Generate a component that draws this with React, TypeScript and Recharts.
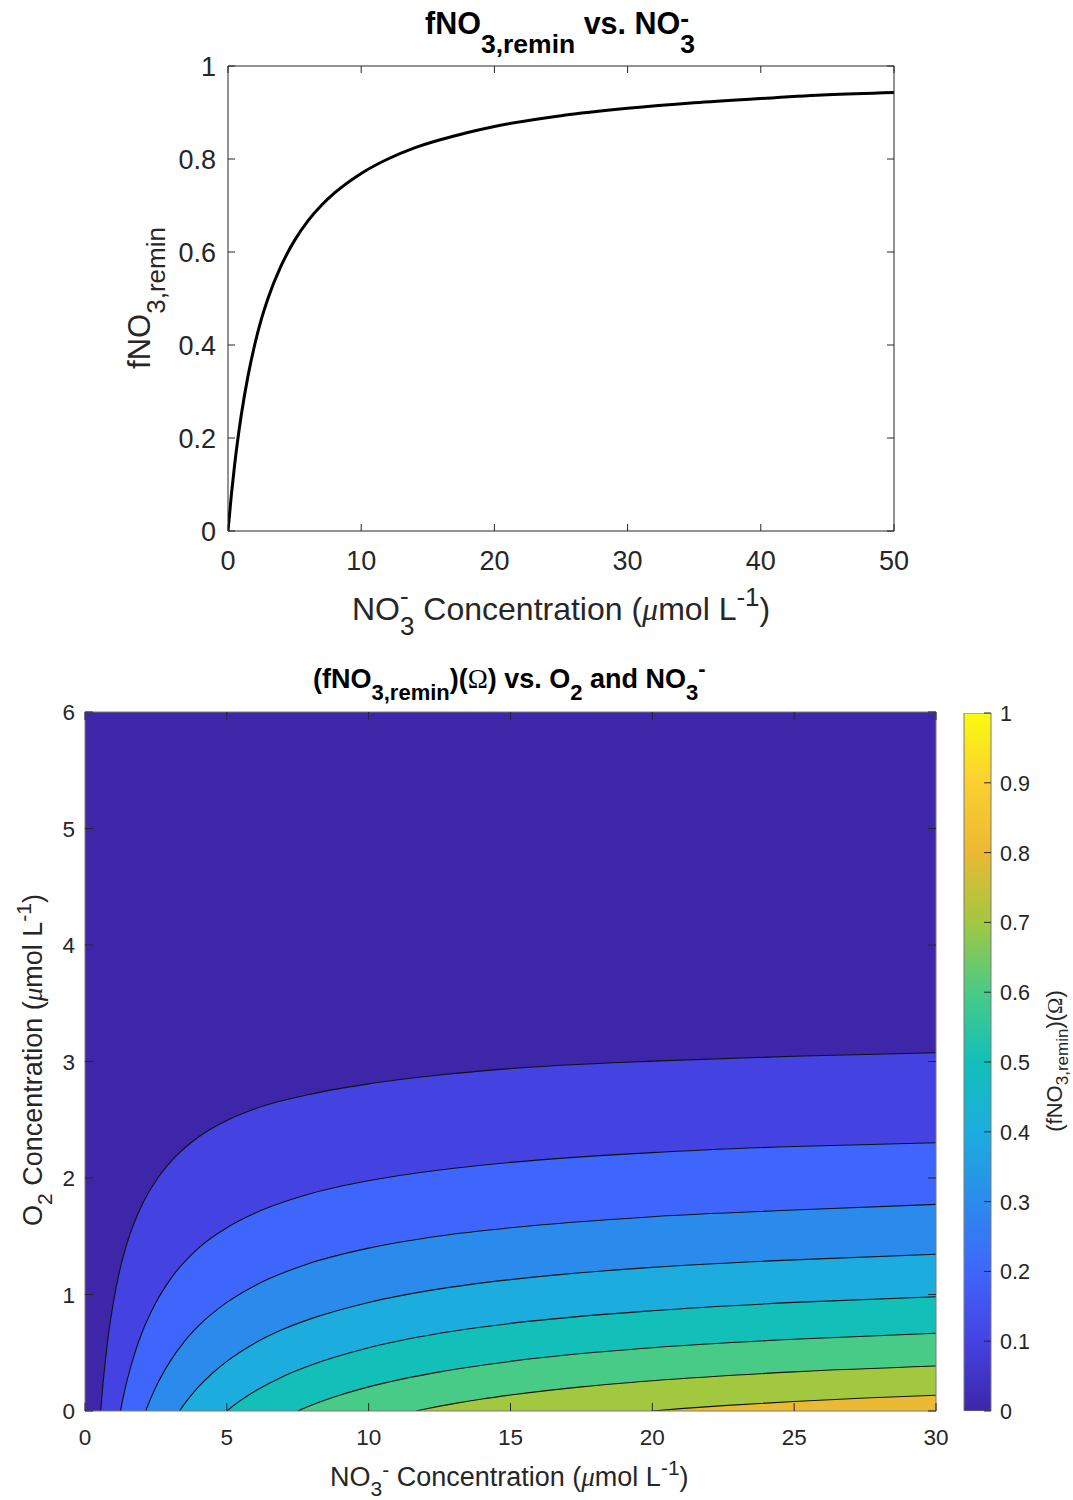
import React from 'react';
import { LineChart, Line, XAxis, YAxis, ComposedChart, Area, Bar } from 'recharts';

const FONT = '"Liberation Sans", Arial, Helvetica, sans-serif';
const SERIF = '"Liberation Serif", "Times New Roman", serif';
const INK = '#262626';
const FRAME = '#7a7a7a';

// ---- top panel: fNO3,remin vs NO3-
const no3Top = [0, 0.25, 0.5, 0.75, 1, 1.5, 2, 2.5, 3, 4, 5, 6, 7, 8, 10, 12, 14, 16, 18, 20, 25, 30, 35, 40, 45, 50];
const fTop = [0, 0.077, 0.143, 0.2, 0.25, 0.333, 0.4, 0.455, 0.5, 0.571, 0.625, 0.667, 0.7, 0.727, 0.769, 0.8, 0.824, 0.842, 0.857, 0.87, 0.893, 0.909, 0.921, 0.93, 0.938, 0.943];
const topXTicks = [0, 10, 20, 30, 40, 50];
const topYTicks = [0, 0.2, 0.4, 0.6, 0.8, 1];

// ---- bottom panel: contour lines of (fNO3,remin)(Omega), O2 position of each level vs NO3-
const contourLevels = [0.1, 0.2, 0.3, 0.4, 0.5, 0.6, 0.7, 0.8];
const level01N = [0.556, 0.6, 0.7, 0.8, 1.0, 1.25, 1.5, 2, 2.5, 3, 4, 5, 6, 8, 10, 12.5, 15, 20, 25, 30];
const level01O2 = [0, 0.137, 0.393, 0.604, 0.932, 1.233, 1.455, 1.764, 1.977, 2.134, 2.352, 2.494, 2.594, 2.722, 2.808, 2.884, 2.939, 3.003, 3.045, 3.075];
const level02N = [1.25, 1.35, 1.5, 1.75, 2, 2.5, 3, 4, 5, 6, 8, 10, 12.5, 15, 20, 25, 30];
const level02O2 = [0, 0.122, 0.278, 0.493, 0.667, 0.932, 1.128, 1.398, 1.573, 1.699, 1.869, 1.977, 2.069, 2.134, 2.218, 2.271, 2.303];
const level03N = [2.143, 2.3, 2.5, 3, 3.5, 4, 5, 6, 8, 10, 12.5, 15, 20, 25, 30];
const level03O2 = [0, 0.098, 0.207, 0.426, 0.596, 0.73, 0.932, 1.078, 1.274, 1.398, 1.502, 1.573, 1.668, 1.725, 1.774];
const level04N = [3.333, 3.5, 3.75, 4, 4.5, 5, 6, 7, 8, 10, 12.5, 15, 20, 25, 30];
const level04O2 = [0, 0.059, 0.137, 0.207, 0.326, 0.426, 0.584, 0.703, 0.795, 0.932, 1.048, 1.128, 1.233, 1.297, 1.345];
const level05N = [5, 5.25, 5.5, 6, 7, 8, 10, 12.5, 15, 20, 25, 30];
const level05O2 = [0, 0.049, 0.093, 0.171, 0.299, 0.397, 0.543, 0.667, 0.752, 0.861, 0.932, 0.981];
const level06N = [7.5, 8, 9, 10, 12.5, 15, 17.5, 20, 25, 30];
const level06O2 = [0, 0.051, 0.137, 0.207, 0.336, 0.426, 0.493, 0.543, 0.616, 0.667];
const level07N = [11.667, 12, 13, 14, 15, 17.5, 20, 25, 30];
const level07O2 = [0, 0.017, 0.063, 0.103, 0.137, 0.207, 0.26, 0.336, 0.386];
const level08N = [20, 21, 22.5, 25, 27.5, 30];
const level08O2 = [0, 0.02, 0.046, 0.082, 0.112, 0.135];

const contourN = [level01N, level02N, level03N, level04N, level05N, level06N, level07N, level08N];
const contourO2 = [level01O2, level02O2, level03O2, level04O2, level05O2, level06O2, level07O2, level08O2];

// parula colours for the bands 0-0.1 ... 0.8-0.9, then 0.9 and 1 for the colorbar
const bandColors = ['#3e26a8', '#4542e2', '#3f66fc', '#2b8bec', '#1cadde', '#12bfb9', '#48cb86', '#a2c840', '#ebb934', '#fccf30', '#f9fb0e'];
const botXTicks = [0, 5, 10, 15, 20, 25, 30];
const botYTicks = [0, 1, 2, 3, 4, 5, 6];
const cbTicks = [0, 0.1, 0.2, 0.3, 0.4, 0.5, 0.6, 0.7, 0.8, 0.9, 1];

const topData = no3Top.map((x, i) => ({ x, f: fTop[i] }));
const contours = contourLevels.map((lvl, i) => ({
  lvl,
  data: contourN[i].map((x, j) => ({ x, o2: contourO2[i][j] })),
}));
const bgData = [{ x: 0, o2: 6 }, { x: 30, o2: 6 }];

const xTick = (len: number, dir: number, fs: number, dy: number, label: boolean) => (p: any) => (
  <g>
    <line x1={p.x} x2={p.x} y1={p.y} y2={p.y + dir * len} stroke={INK} strokeWidth={1} />
    {label && (
      <text x={p.x} y={p.y + dy} textAnchor="middle" fontSize={fs} fill={INK} fontFamily={FONT}>
        {p.payload.value}
      </text>
    )}
  </g>
);

const yTick = (len: number, dir: number, fs: number, dx: number, dy: number, label: boolean) => (p: any) => (
  <g>
    <line x1={p.x} x2={p.x + dir * len} y1={p.y} y2={p.y} stroke={INK} strokeWidth={1} />
    {label && (
      <text x={p.x + dx} y={p.y + dy} textAnchor={dx < 0 ? 'end' : 'start'} fontSize={fs} fill={INK} fontFamily={FONT}>
        {p.payload.value}
      </text>
    )}
  </g>
);

const noTick = { tickLine: false, tickSize: 0, tickMargin: 0, interval: 0 as const, allowDataOverflow: true };

const TopChart = () => (
  <LineChart width={1073} height={640} margin={{ top: 0, right: 0, bottom: 0, left: 0 }}>
    <XAxis dataKey="x" type="number" domain={[0, 50]} ticks={topXTicks} height={109} axisLine={{ stroke: INK }}
      tick={xTick(7, -1, 27, 39, true)} {...noTick} />
    <XAxis xAxisId="top" dataKey="x" orientation="top" type="number" domain={[0, 50]} ticks={topXTicks} height={66}
      axisLine={{ stroke: INK }} tick={xTick(7, 1, 27, 0, false)} {...noTick} />
    <YAxis type="number" domain={[0, 1]} ticks={topYTicks} width={228} axisLine={{ stroke: INK }}
      tick={yTick(7, 1, 27, -12, 10, true)} {...noTick} />
    <YAxis yAxisId="right" orientation="right" type="number" domain={[0, 1]} ticks={topYTicks} width={179}
      axisLine={{ stroke: INK }} tick={yTick(7, -1, 27, 0, 0, false)} {...noTick} />
    <Line data={topData} xAxisId="top" yAxisId="right" dataKey="f" stroke="none" dot={false} isAnimationActive={false} />
    <Line data={topData} dataKey="f" type="monotone" stroke="#000" strokeWidth={3} dot={false} isAnimationActive={false} />
  </LineChart>
);

const ContourChart = () => (
  <ComposedChart width={1073} height={860} margin={{ top: 0, right: 0, bottom: 0, left: 0 }}>
    <XAxis dataKey="x" type="number" domain={[0, 30]} ticks={botXTicks} height={89} axisLine={{ stroke: FRAME }}
      tick={xTick(8, -1, 22.5, 34, true)} {...noTick} />
    <XAxis xAxisId="top" dataKey="x" orientation="top" type="number" domain={[0, 30]} ticks={botXTicks} height={72}
      axisLine={{ stroke: FRAME }} tick={xTick(8, 1, 22, 0, false)} {...noTick} />
    <YAxis type="number" domain={[0, 6]} ticks={botYTicks} width={85} axisLine={{ stroke: FRAME }}
      tick={yTick(8, 1, 22.5, -10, 8, true)} {...noTick} />
    <YAxis yAxisId="right" orientation="right" type="number" domain={[0, 6]} ticks={botYTicks} width={137}
      axisLine={{ stroke: FRAME }} tick={yTick(8, -1, 22, 0, 0, false)} {...noTick} />
    <Area data={bgData} dataKey="o2" type="linear" fill={bandColors[0]} fillOpacity={1} stroke="none"
      baseValue={0} isAnimationActive={false} />
    {contours.map((c, i) => (
      <Area key={c.lvl} data={c.data} dataKey="o2" type="monotone" fill={bandColors[i + 1]} fillOpacity={1}
        stroke="#111" strokeWidth={1.1} baseValue={0} isAnimationActive={false} />
    ))}
    <Line data={bgData} xAxisId="top" yAxisId="right" dataKey="o2" stroke="none" dot={false} isAnimationActive={false} />
  </ComposedChart>
);

const ColorBar = () => (
  <ComposedChart width={1073} height={860} data={[{ k: 'cb', v: 1 }]} barCategoryGap={0}
    margin={{ top: 73, right: 0, bottom: 89, left: 964 }}>
    <defs>
      <linearGradient id="parula" x1="0" y1="1" x2="0" y2="0">
        {bandColors.map((c, i) => (
          <stop key={i} offset={`${i * 10}%`} stopColor={c} />
        ))}
      </linearGradient>
    </defs>
    <XAxis dataKey="k" type="category" hide />
    <YAxis orientation="right" type="number" domain={[0, 1]} ticks={cbTicks} width={82} axisLine={false}
      tick={yTick(7, -1, 21.5, 9, 8, true)} {...noTick} />
    <Bar dataKey="v" fill="url(#parula)" stroke={FRAME} strokeWidth={1} isAnimationActive={false} />
  </ComposedChart>
);

const Labels = () => (
  <svg width={1073} height={1500} style={{ position: 'absolute', left: 0, top: 0, pointerEvents: 'none' }}>
    {/* top panel */}
    <text x={425} y={34} fontSize={30.5} fontWeight="bold" fill="#000" fontFamily={FONT}>
      fNO<tspan fontSize={26.5} dy={19}>3,remin</tspan>
      <tspan dy={-19}>{' vs. NO'}</tspan>
      <tspan fontSize={26.5} dy={-7}>-</tspan>
      <tspan fontSize={26.5} dx={-8.8} dy={26}>3</tspan>
    </text>
    <text x={352} y={620} fontSize={32} fill={INK} fontFamily={FONT}>
      NO<tspan fontSize={26} dy={-15}>-</tspan>
      <tspan fontSize={26} dx={-8.7} dy={30}>3</tspan>
      <tspan dy={-15}>{' Concentration ('}</tspan>
      <tspan fontFamily={SERIF} fontStyle="italic">μ</tspan>
      <tspan>{'mol L'}</tspan>
      <tspan fontSize={26} dy={-14}>-1</tspan>
      <tspan dy={14}>)</tspan>
    </text>
    <text transform="translate(150,298) rotate(-90)" textAnchor="middle" fontSize={31} fill={INK} fontFamily={FONT}>
      fNO<tspan fontSize={26} dy={15}>3,remin</tspan>
    </text>

    {/* bottom panel */}
    <text x={313} y={688} fontSize={27} fontWeight="bold" fill="#000" fontFamily={FONT}>
      (fNO<tspan fontSize={22} dy={12}>3,remin</tspan>
      <tspan dy={-12}>)(</tspan>
      <tspan fontFamily={SERIF} fontWeight="normal">Ω</tspan>
      <tspan>{') vs. O'}</tspan>
      <tspan fontSize={22} dy={12}>2</tspan>
      <tspan dy={-12}>{' and NO'}</tspan>
      <tspan fontSize={22} dy={12}>3</tspan>
      <tspan fontSize={22} dy={-24}>-</tspan>
    </text>
    <text x={330} y={1486} fontSize={27} fill={INK} fontFamily={FONT}>
      NO<tspan fontSize={21} dy={10}>3</tspan>
      <tspan fontSize={21} dy={-19}>-</tspan>
      <tspan dy={9}>{' Concentration ('}</tspan>
      <tspan fontFamily={SERIF} fontStyle="italic">μ</tspan>
      <tspan>{'mol L'}</tspan>
      <tspan fontSize={21} dy={-11}>-1</tspan>
      <tspan dy={11}>)</tspan>
    </text>
    <text transform="translate(42,1060) rotate(-90)" textAnchor="middle" fontSize={27} fill={INK} fontFamily={FONT}>
      O<tspan fontSize={21} dy={10}>2</tspan>
      <tspan dy={-10}>{' Concentration ('}</tspan>
      <tspan fontFamily={SERIF} fontStyle="italic">μ</tspan>
      <tspan>{'mol L'}</tspan>
      <tspan fontSize={21} dy={-11}>-1</tspan>
      <tspan dy={11}>)</tspan>
    </text>
    <text transform="translate(1062,1061) rotate(-90)" textAnchor="middle" fontSize={22} fill={INK} fontFamily={FONT}>
      (fNO<tspan fontSize={17} dy={6}>3,remin</tspan>
      <tspan dy={-6}>)(</tspan>
      <tspan fontFamily={SERIF}>Ω</tspan>
      <tspan>)</tspan>
    </text>
  </svg>
);

export default function App() {
  return (
    <div style={{ position: 'absolute', left: 0, top: 0, width: 1073, height: 1500, background: '#fff' }}>
      <div style={{ position: 'absolute', left: 0, top: 0 }}>
        <TopChart />
      </div>
      <div style={{ position: 'absolute', left: 0, top: 640 }}>
        <ContourChart />
      </div>
      <div style={{ position: 'absolute', left: 0, top: 640 }}>
        <ColorBar />
      </div>
      <Labels />
    </div>
  );
}
